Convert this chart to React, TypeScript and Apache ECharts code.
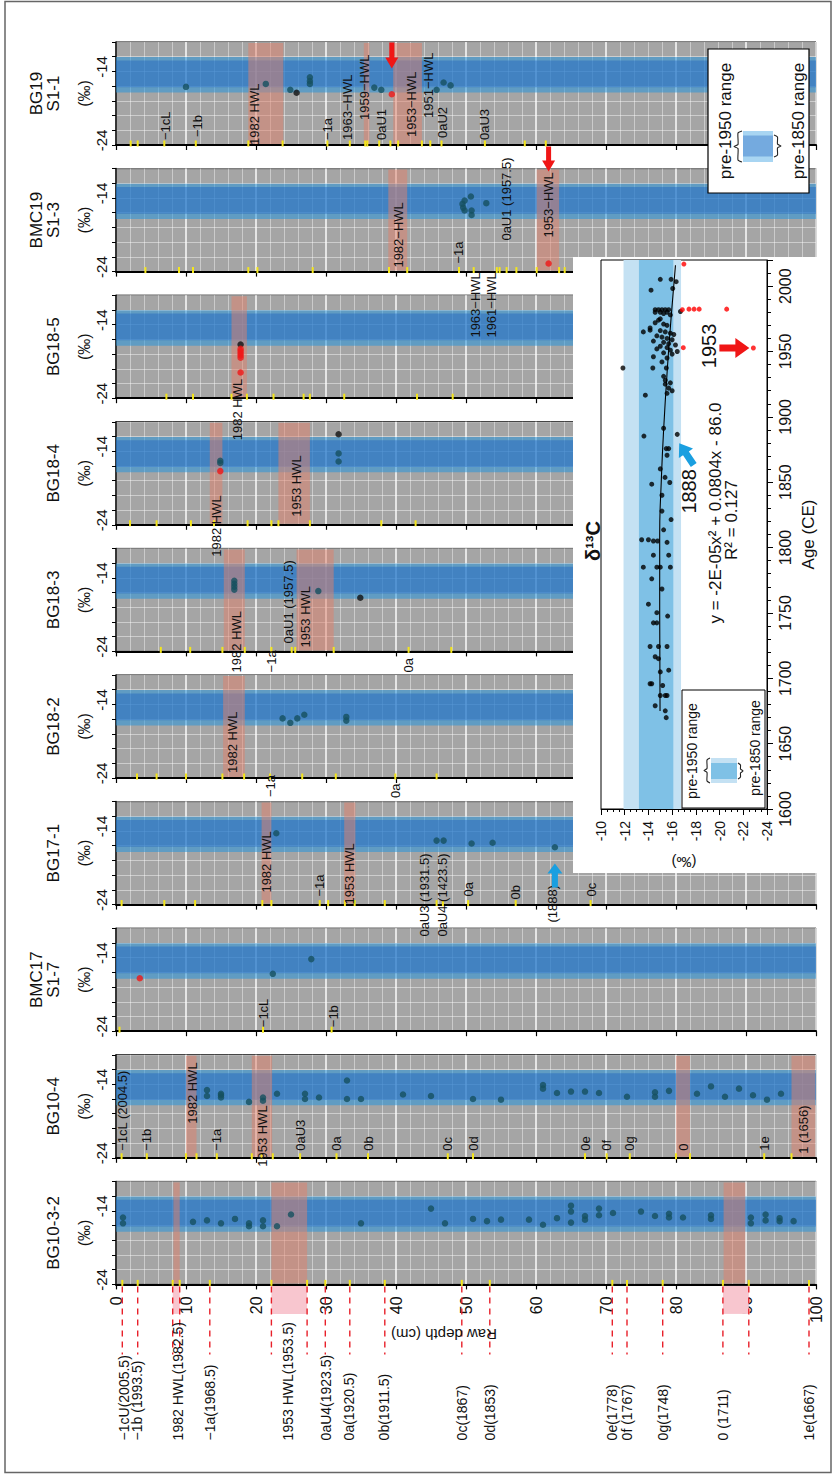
import React, { useEffect, useRef } from 'react';
import * as echarts from 'echarts';

const FONT = '"Liberation Sans", Arial, Helvetica, sans-serif';
const TEAL = '#15505f';
const BLACK = '#111111';
const RED = '#f01616';
const BLUE_ARROW = '#1a9fe0';

// ---------------- common axis data ----------------
const PANEL_TITLES = ['BG19\nS1-1', 'BMC19\nS1-3', 'BG18-5', 'BG18-4', 'BG18-3', 'BG18-2', 'BG17-1', 'BMC17\nS1-7', 'BG10-4', 'BG10-3-2'];
const DEPTH_MIN = 0;
const DEPTH_MAX = 100;
const DEPTH_STEP = 10;
const D13C_MIN = -24;
const D13C_MAX = -10;
const D13C_STEP = 2;
const D13C_LABELLED = [-14, -24];
const PANEL_PRE1950 = [-12.05, -16.86];
const PANEL_PRE1850 = [-12.5, -16.14];

// ---------------- BG19 S1-1 ----------------
const BG19_TEAL = [[10.0, -16.1], [21.4, -15.7], [24.9, -16.5], [27.7, -14.8], [27.7, -15.3], [27.7, -15.7], [36.9, -16.2], [37.9, -16.5], [45.8, -16.5], [46.8, -15.5], [47.8, -15.9]];
const BG19_BLACK = [[25.8, -16.9]];
const BG19_RED = [[39.4, -17.1]];
const BG19_HWL = [[18.9, 23.9], [35.4, 36.2], [39.6, 43.7]];
const BG19_TICKS = [2.1, 3.1, 6.9, 11.4, 18.9, 23.8, 30.2, 33.4, 35.6, 35.9, 37.6, 39.2, 40.3, 43.7, 44.9, 46.5, 52.7, 58.4, 61.4];
const BG19_LABELS = [['−1cL', 7.1], ['−1b', 11.6], ['1982 HWL', 19.8], ['−1a', 30.2], ['1963−HWL', 33.1], ['1959−HWL', 35.5], ['0aU1', 37.9], ['1953−HWL', 42.2], ['1951−HWL', 44.7], ['0aU2', 46.7], ['0aU3', 52.6]];
const BG19_LIFT = [5, 8, 0, 5, 5, 25, 5, 8, 27, 7, 5];

// ---------------- BMC19 S1-3 ----------------
const BMC19_TEAL = [[49.8, -14.35], [50.7, -13.8], [49.5, -14.8], [49.6, -15.3], [49.8, -15.7], [50.8, -15.7], [50.8, -16.3], [52.9, -14.7]];
const BMC19_RED = [[61.8, -22.9]];
const BMC19_HWL = [[38.9, 41.6], [60.1, 63.3]];
const BMC19_TICKS = [4.2, 9.0, 11.0, 18.9, 20.2, 28.1, 39.0, 41.6, 49.0, 51.1, 54.4, 54.8, 55.8, 57.2, 60.1, 63.3, 64.1];
const BMC19_LABELS = [['1982−HWL', 40.3], ['−1a', 48.9], ['0aU1 (1957.5)', 55.8], ['1953−HWL', 61.8], ['1963−HWL', 51.3], ['1961−HWL', 53.7]];
const BMC19_LIFT = [4, 8, 31, 34, -66, -66];

// ---------------- BG18-5 ----------------
const BG185_BLACK = [[17.8, -16.7]];
const BG185_RED = [[17.8, -17.3], [17.8, -17.6], [17.8, -17.9], [17.8, -18.2], [17.8, -18.5], [17.8, -20.5]];
const BG185_HWL = [[16.5, 18.7]];
const BG185_TICKS = [7.2, 11.0, 16.5, 18.7, 22.5, 26.8, 27.7, 32.6, 43.0, 48.1];
const BG185_LABELS = [['1982 HWL', 17.4]];
const BG185_LIFT = [-42];

// ---------------- BG18-4 ----------------
const BG184_TEAL = [[14.9, -15.3], [14.9, -15.6], [31.8, -14.3], [31.8, -15.4]];
const BG184_BLACK = [[31.8, -11.7]];
const BG184_RED = [[14.9, -16.7]];
const BG184_HWL = [[13.4, 15.2], [23.2, 27.7]];
const BG184_TICKS = [2.0, 5.8, 10.7, 14.0, 18.8, 22.2, 23.2, 27.7, 37.9, 42.8];
const BG184_LABELS = [['1982 HWL', 14.3], ['1953 HWL', 25.8]];
const BG184_LIFT = [-32, 8];

// ---------------- BG18-3 ----------------
const BG183_TEAL = [[16.9, -14.4], [16.9, -14.8], [16.9, -15.2], [16.9, -15.6], [28.9, -15.8]];
const BG183_BLACK = [[34.9, -16.7]];
const BG183_HWL = [[15.4, 18.4], [25.8, 31.1]];
const BG183_TICKS = [6.4, 10.6, 15.2, 18.4, 22.2, 25.1, 25.6, 31.1, 41.8, 47.9];
const BG183_LABELS = [['1982 HWL', 17.2], ['−1a', 22.2], ['0aU1 (1957.5)', 24.6], ['1953 HWL', 27.0], ['0a', 41.8]];
const BG183_LIFT = [-21, -21, 8, 4, -21];

// ---------------- BG18-2 ----------------
const BG182_TEAL = [[23.8, -15.9], [24.9, -16.5], [25.9, -15.9], [26.9, -15.4], [32.9, -15.7], [32.9, -16.2]];
const BG182_HWL = [[15.3, 18.4]];
const BG182_TICKS = [3.0, 5.8, 10.0, 15.2, 18.3, 22.0, 26.6, 31.4, 39.9, 45.8];
const BG182_LABELS = [['1982 HWL', 16.7], ['−1a', 22.0], ['0a', 39.9]];
const BG182_LIFT = [5, -19, -20];

// ---------------- BG17-1 ----------------
const BG171_TEAL = [[22.9, -14.3], [45.8, -15.3], [46.8, -15.3], [50.8, -15.7], [53.8, -15.6], [62.7, -16.2]];
const BG171_HWL = [[20.8, 22.2], [32.6, 34.2]];
const BG171_TICKS = [0.8, 6.9, 11.3, 20.9, 22.2, 29.1, 30.3, 32.7, 34.1, 38.4, 45.8, 46.7, 50.3, 57.1, 67.8];
const BG171_LABELS = [['1982 HWL', 21.5], ['−1a', 29.1], ['1953 HWL', 33.4], ['0aU3 (1931.5)', 44.1], ['0aU4 (1423.5)', 46.7], ['0a', 50.3], ['0b', 57.1], ['(1888)', 62.4], ['0c', 67.9]];
const BG171_LIFT = [12, 8, 0, -32, -32, 8, 5, -18, 8];

// ---------------- BMC17 S1-7 ----------------
const BMC17_TEAL = [[22.4, -16.2], [27.9, -14.2]];
const BMC17_RED = [[3.4, -16.8]];
const BMC17_TICKS = [0.5, 21.0, 30.8];
const BMC17_LABELS = [['−1cL', 21.0], ['−1b', 31.0]];
const BMC17_LIFT = [4, 4];

// ---------------- BG10-4 ----------------
const BG104_TEAL = [[13, -14.8], [13, -15.6], [15, -15.3], [15, -15.5], [15, -15.8], [19, -16.4], [21, -15.8], [21, -16.25], [23, -15.3], [27, -15.3], [27, -16.0], [29, -15.8], [33, -13.5], [33, -16.0], [35, -16.0], [41, -15.4], [45, -15.6], [51, -16.0], [55, -16.1], [61, -14.1], [61, -14.6], [63, -15.2], [65, -15.0], [67, -15.0], [69, -15.2], [73, -15.7], [77, -15.1], [77, -15.7], [79, -14.9], [83, -15.3], [85, -14.3], [87, -15.7], [89, -14.6], [91, -15.5], [93, -16.1], [95, -15.3]];
const BG104_HWL = [[10.0, 11.5], [19.4, 22.3], [80.0, 82.0], [96.5, 99.9]];
const BG104_TICKS = [0.8, 4.4, 10.0, 11.5, 14.4, 19.4, 20.8, 22.4, 26.3, 31.5, 36.0, 47.4, 51.0, 67.0, 70.1, 73.4, 80.0, 82.0, 92.6, 96.5];
const BG104_LABELS = [['−1cL (2004.5)', 0.9], ['−1b', 4.4], ['1982 HWL', 10.9], ['−1a', 14.4], ['1953 HWL', 20.9], ['0aU3', 26.3], ['0a', 31.5], ['0b', 36.0], ['0c', 47.4], ['0d', 51.0], ['0e', 67.0], ['0f', 70.1], ['0g', 73.4], ['0', 81.0], ['1e', 92.6], ['1 (1656)', 98.2]];
const BG104_LIFT = [7, 7, 34, 7, -9, 7, 7, 7, 7, 7, 7, 7, 7, 7, 7, 4];

// ---------------- BG10-3-2 ----------------
const BG1032_TEAL = [[1, -14.9], [1, -15.7], [11, -15.5], [13, -15.3], [15, -15.7], [17, -15.1], [19, -15.7], [19, -16.1], [21, -15.3], [21, -16.1], [23, -16.1], [25, -14.5], [35, -15.7], [45, -13.7], [47, -15.7], [51, -15.1], [53, -15.4], [55, -15.2], [59, -15.2], [61, -15.9], [63, -15.0], [65, -13.3], [65, -14.1], [65, -15.6], [67, -14.7], [67, -15.2], [69, -13.7], [69, -14.6], [71, -14.3], [75, -14.1], [77, -14.7], [79, -14.4], [79, -14.9], [81, -14.9], [85, -14.6], [85, -15.1], [90.7, -14.9], [90.7, -15.7], [92.8, -14.5], [92.8, -15.3], [94.8, -15.0], [94.8, -15.4], [96.8, -15.4]];
const BG1032_HWL = [[8.2, 9.1], [22.2, 27.3], [86.8, 89.9]];
const BG1032_TICKS = [0.9, 3.1, 8.1, 9.1, 13.4, 22.2, 27.3, 29.9, 33.4, 38.4, 49.4, 53.4, 70.9, 73.0, 78.1, 86.7, 90.4, 99.0];
const BOTTOM_LABELS = [['−1cU(2005.5)', 1.2], ['−1b (1993.5)', 3.0], ['1982 HWL(1982.5)', 8.8], ['−1a(1968.5)', 13.4], ['1953 HWL(1953.5)', 24.5], ['0aU4(1923.5)', 30.0], ['0a(1920.5)', 33.3], ['0b(1911.5)', 38.3], ['0c(1867)', 49.4], ['0d(1853)', 53.4], ['0e(1778)', 70.9], ['0f (1767)', 73.0], ['0g(1748)', 78.1], ['0 (1711)', 86.7], ['1e(1667)', 99.0]];
const BOTTOM_DASHES = BG1032_TICKS;
const BOTTOM_HWL = [[8.1, 9.1], [22.2, 27.3], [86.7, 90.4]];

// ---------------- arrows in panels (tip positions) ----------------
const BG19_ARROW_TIP = [[39.4, -13.6]];
const BMC19_ARROW_TIP = [[61.8, -10.4]];
const BG171_ARROW_TIP = [[62.7, -18.4]];

// ---------------- inset: δ13C vs age ----------------
const AGE_MIN = 1600;
const AGE_MAX = 2020;
const AGE_STEP = 50;
const INSET_D_STEP = 2;
const INSET_PRE1950 = [-11.9, -16.75];
const INSET_PRE1850 = [-13.2, -16.1];
// [age CE, δ13C ‰]
const INSET_BLACK = [
  [2005.2, -15.0], [2005.2, -15.91], [2003.4, -16.34], [1998.2, -16.05], [1996.9, -14.22],
  [1982, -14.57], [1982, -14.85], [1982, -15.14], [1982, -15.42], [1982, -15.71], [1980, -14.57], [1980, -15.0], [1980, -15.57], [1980.6, -16.7], [1979, -15.28], [1978, -15.85],
  [1975, -15.0], [1974, -14.85], [1972, -14.57], [1971, -15.28], [1970, -15.57], [1968, -14.14], [1966.3, -14.14], [1965, -13.57], [1966, -15.0], [1965, -15.42], [1964, -15.85], [1963, -16.14], [1962, -14.71], [1961, -15.14], [1960, -15.57], [1959, -16.0], [1958, -14.42], [1957, -15.28], [1956, -15.71], [1955, -16.28], [1954, -15.0], [1953, -15.57], [1952, -14.71], [1951, -15.85], [1950, -16.43], [1949, -15.28], [1948, -16.0], [1946, -14.42], [1945, -15.57], [1942, -15.14],
  [1937.4, -11.85], [1937.4, -14.37], [1937.4, -15.51], [1931, -15.28], [1928, -15.42], [1926, -15.85], [1925, -15.42], [1922, -15.71], [1920, -16.0], [1918, -15.57], [1916.6, -13.74],
  [1891.3, -15.28], [1886.6, -16.43], [1885.3, -13.62], [1875.7, -15.5], [1875.7, -15.71],
  [1870.6, -15.57], [1860.2, -15.0], [1853.7, -15.4], [1849.8, -15.8], [1848.5, -14.28], [1840, -15.14], [1827.9, -15.14], [1821.4, -15.91], [1813.6, -15.28],
  [1806, -13.43], [1806, -14.0], [1805, -14.42], [1805, -14.77], [1804, -15.57], [1794.2, -14.42], [1794.2, -15.71], [1785, -13.57], [1785, -14.71], [1785, -15.0], [1785, -15.85],
  [1776.1, -14.28], [1768.3, -15.14], [1756.7, -14.0], [1750.2, -14.71], [1747.6, -15.62], [1742.4, -14.42], [1742.4, -14.71], [1724.3, -14.14], [1724.3, -14.85], [1724.3, -15.57],
  [1716.5, -14.57], [1715, -14.85], [1706.2, -15.71], [1704.9, -15.0], [1695.8, -14.14], [1695.8, -14.28], [1694.5, -15.2], [1686.8, -15.0], [1686.8, -15.42], [1686.8, -15.57], [1679, -14.57], [1675.1, -15.42], [1669.9, -15.5]
];
const INSET_RED = [[2016.9, -16.99], [1982, -16.86], [1982.4, -17.42], [1982.4, -17.85], [1982.4, -18.28], [1982.4, -20.6], [1952.9, -16.94], [1952.7, -22.85]];
const INSET_TREND = [[1675, -14.98], [1750, -14.95], [1810, -14.95], [1850, -15.08], [1890, -15.28], [1940, -15.62], [1980, -15.95], [2016, -16.28]];
const INSET_RED_TARGET = [[1952.7, -22.85]];
const INSET_BLUE_TARGET = [[1886.6, -16.43]];
const INSET_NOTES = [['1953', 1952.7, -22.85], ['1888', 1886.6, -16.43]];

// ---------------- layout (pixels) ----------------
const TOPS = [42, 168.6, 295.2, 421.8, 548.4, 675, 801.6, 928.2, 1054.8, 1181.4];
const GRID_LEFT = 116;
const GRID_W = 700;
const GRID_H = 103;

const PANELS = [
  { teal: BG19_TEAL, black: BG19_BLACK, red: BG19_RED, hwl: BG19_HWL, ticks: BG19_TICKS, labels: BG19_LABELS, lift: BG19_LIFT },
  { teal: BMC19_TEAL, black: [], red: BMC19_RED, hwl: BMC19_HWL, ticks: BMC19_TICKS, labels: BMC19_LABELS, lift: BMC19_LIFT },
  { teal: [], black: BG185_BLACK, red: BG185_RED, hwl: BG185_HWL, ticks: BG185_TICKS, labels: BG185_LABELS, lift: BG185_LIFT },
  { teal: BG184_TEAL, black: BG184_BLACK, red: BG184_RED, hwl: BG184_HWL, ticks: BG184_TICKS, labels: BG184_LABELS, lift: BG184_LIFT },
  { teal: BG183_TEAL, black: BG183_BLACK, red: [], hwl: BG183_HWL, ticks: BG183_TICKS, labels: BG183_LABELS, lift: BG183_LIFT },
  { teal: BG182_TEAL, black: [], red: [], hwl: BG182_HWL, ticks: BG182_TICKS, labels: BG182_LABELS, lift: BG182_LIFT },
  { teal: BG171_TEAL, black: [], red: [], hwl: BG171_HWL, ticks: BG171_TICKS, labels: BG171_LABELS, lift: BG171_LIFT },
  { teal: BMC17_TEAL, black: [], red: BMC17_RED, hwl: [], ticks: BMC17_TICKS, labels: BMC17_LABELS, lift: BMC17_LIFT },
  { teal: BG104_TEAL, black: [], red: [], hwl: BG104_HWL, ticks: BG104_TICKS, labels: BG104_LABELS, lift: BG104_LIFT },
  { teal: BG1032_TEAL, black: [], red: [], hwl: BG1032_HWL, ticks: BG1032_TICKS, labels: [], lift: [] },
];

function txt(style: any) {
  return { fontFamily: FONT, fill: '#111', align: 'center', verticalAlign: 'middle', ...style };
}

function bandSeries(r1950: number[], r1850: number[], c1: string, c2: string, gi: number, vertical: boolean, z: number) {
  return {
    type: 'custom', xAxisIndex: gi, yAxisIndex: gi, silent: true, z,
    data: [[0]],
    renderItem: (params: any, api: any) => {
      const cs = params.coordSys;
      const mk = (r: number[], fill: string) => {
        if (!vertical) {
          const a = api.coord([DEPTH_MIN, r[0]]);
          const b = api.coord([DEPTH_MAX, r[1]]);
          return { type: 'rect', shape: { x: cs.x, y: a[1], width: cs.width, height: b[1] - a[1] }, style: { fill } };
        }
        const a = api.coord([r[0], AGE_MAX]);
        const b = api.coord([r[1], AGE_MIN]);
        return { type: 'rect', shape: { x: a[0], y: cs.y, width: b[0] - a[0], height: cs.height }, style: { fill } };
      };
      return { type: 'group', children: [mk(r1950, c1), mk(r1850, c2)] };
    },
  };
}

function dotSeries(i: number, p: any) {
  const data = [
    ...p.teal.map((v: number[]) => ({ value: v, itemStyle: { color: TEAL } })),
    ...p.black.map((v: number[]) => ({ value: v, itemStyle: { color: BLACK } })),
    ...p.red.map((v: number[]) => ({ value: v, itemStyle: { color: RED } })),
  ];
  return { type: 'scatter', xAxisIndex: i, yAxisIndex: i, symbolSize: 6.5, data, silent: true, z: 2 };
}

function hwlSeries(i: number, ranges: number[][]) {
  return {
    type: 'custom', xAxisIndex: i, yAxisIndex: i, silent: true, z: 2, data: ranges,
    renderItem: (params: any, api: any) => {
      const a = api.coord([api.value(0), D13C_MAX]);
      const b = api.coord([api.value(1), D13C_MIN]);
      return { type: 'rect', shape: { x: a[0], y: a[1] + 1, width: b[0] - a[0], height: b[1] - a[1] - 2 }, style: { fill: 'rgba(226,128,106,0.5)' } };
    },
  };
}

function tickSeries(i: number, ticks: number[]) {
  return {
    type: 'custom', xAxisIndex: i, yAxisIndex: i, silent: true, z: 3, data: ticks.map((t) => [t, D13C_MIN]),
    renderItem: (params: any, api: any) => {
      const p = api.coord([api.value(0), api.value(1)]);
      return { type: 'rect', shape: { x: p[0] - 1, y: p[1] - 4.5, width: 2, height: 6 }, style: { fill: '#f4e61a' } };
    },
  };
}

function labelSeries(i: number, labels: any[], lift: number[]) {
  return {
    type: 'custom', xAxisIndex: i, yAxisIndex: i, silent: true, z: 3, data: labels.map((l) => [l[1], D13C_MIN]),
    renderItem: (params: any, api: any) => {
      const p = api.coord([api.value(0), api.value(1)]);
      const k = params.dataIndex;
      return {
        type: 'text', x: p[0], y: p[1] - lift[k], rotation: Math.PI / 2,
        style: txt({ text: labels[k][0], fontSize: 13, align: 'left', verticalAlign: 'middle' }),
      };
    },
  };
}

function arrowSeries(xi: number, yi: number, tips: number[][], dir: number[], color: string, len: number, headLen: number, headW: number, bodyW: number, off: number[], z: number) {
  return {
    type: 'custom', xAxisIndex: xi, yAxisIndex: yi, silent: true, z, data: tips,
    renderItem: (params: any, api: any) => {
      const p = api.coord([api.value(0), api.value(1)]);
      const tx = p[0] + off[0];
      const ty = p[1] + off[1];
      const ux = dir[0];
      const uy = dir[1];
      const nx = -uy;
      const ny = ux;
      const bx = tx - ux * headLen;
      const by = ty - uy * headLen;
      const ex = tx - ux * len;
      const ey = ty - uy * len;
      const pts = [
        [tx, ty],
        [bx + nx * headW / 2, by + ny * headW / 2],
        [bx + nx * bodyW / 2, by + ny * bodyW / 2],
        [ex + nx * bodyW / 2, ey + ny * bodyW / 2],
        [ex - nx * bodyW / 2, ey - ny * bodyW / 2],
        [bx - nx * bodyW / 2, by - ny * bodyW / 2],
        [bx - nx * headW / 2, by - ny * headW / 2],
      ];
      return { type: 'polygon', shape: { points: pts }, style: { fill: color } };
    },
  };
}

function brace(xTip: number, xBase: number, y1: number, y2: number) {
  const xm = (xTip + xBase) / 2;
  const ym = (y1 + y2) / 2;
  return {
    type: 'polyline', z: 72,
    shape: { points: [[xBase, y1], [xm, y1 + 2], [xm, ym - 2], [xTip, ym], [xm, ym + 2], [xm, y2 - 2], [xBase, y2]], smooth: 0.2 },
    style: { stroke: '#222', lineWidth: 1.1, fill: null },
  };
}

function buildOption() {
  const grids: any[] = [];
  const xAxes: any[] = [];
  const yAxes: any[] = [];
  const series: any[] = [];

  PANELS.forEach((p, i) => {
    grids.push({ left: GRID_LEFT, top: TOPS[i], width: GRID_W, height: GRID_H, show: true, backgroundColor: '#a5a5a5', borderColor: '#000', borderWidth: 1 });
    xAxes.push({
      gridIndex: i, type: 'value', min: DEPTH_MIN, max: DEPTH_MAX, interval: DEPTH_STEP,
      axisLine: { show: true, onZero: false, lineStyle: { color: '#000', width: 2 } },
      axisTick: { show: true, length: 5, lineStyle: { color: '#000', width: 1.2 } },
      axisLabel: { show: i === 9, rotate: 90, fontSize: 16, margin: 12, color: '#111', fontFamily: FONT, formatter: (v: number) => String(v) },
      splitLine: { show: true, lineStyle: { color: 'rgba(255,255,255,0.95)', width: 1.5 } },
      minorTick: { show: false, splitNumber: 5 },
      minorSplitLine: { show: true, lineStyle: { color: 'rgba(255,255,255,0.42)', width: 1 } },
    });
    yAxes.push({
      gridIndex: i, type: 'value', min: D13C_MIN, max: D13C_MAX, interval: D13C_STEP,
      axisLine: { show: true, onZero: false, lineStyle: { color: '#000', width: 1.5 } },
      axisTick: { show: true, length: 4, lineStyle: { color: '#000' } },
      axisLabel: {
        rotate: 90, fontSize: 15, margin: 7, color: '#111', fontFamily: FONT, padding: [0, 0, 0, 9],
        formatter: (v: number) => (D13C_LABELLED.indexOf(v) >= 0 ? String(v) : ''),
      },
      splitLine: { show: true, lineStyle: { color: 'rgba(255,255,255,0.45)', width: 1 } },
    });
    series.push(bandSeries(PANEL_PRE1950, PANEL_PRE1850, 'rgba(40,150,220,0.55)', 'rgba(30,100,190,0.45)', i, false, 2));
    series.push(dotSeries(i, p));
    if (p.hwl.length) series.push(hwlSeries(i, p.hwl));
    series.push(tickSeries(i, p.ticks));
    if (p.labels.length) series.push(labelSeries(i, p.labels, p.lift));
  });

  // arrows inside panels
  series.push(arrowSeries(0, 0, BG19_ARROW_TIP, [0, 1], RED, 26, 11, 13, 5, [0, 0], 3));
  series.push(arrowSeries(1, 1, BMC19_ARROW_TIP, [0, 1], RED, 25, 11, 13, 5, [0, 0], 3));
  series.push(arrowSeries(6, 6, BG171_ARROW_TIP, [0, -1], BLUE_ARROW, 24, 10, 15, 6, [0, 0], 3));

  // bottom depth-axis annotations (BG10-3-2)
  series.push({
    type: 'custom', xAxisIndex: 9, yAxisIndex: 9, silent: true, z: 2, data: BOTTOM_HWL,
    renderItem: (params: any, api: any) => {
      const a = api.coord([api.value(0), D13C_MIN]);
      const b = api.coord([api.value(1), D13C_MIN]);
      return { type: 'rect', shape: { x: a[0], y: a[1] + 1.5, width: b[0] - a[0], height: 28 }, style: { fill: '#f8c6cf' } };
    },
  });
  series.push({
    type: 'custom', xAxisIndex: 9, yAxisIndex: 9, silent: true, z: 3, data: BOTTOM_DASHES.map((d) => [d, D13C_MIN]),
    renderItem: (params: any, api: any) => {
      const p = api.coord([api.value(0), api.value(1)]);
      return { type: 'line', shape: { x1: p[0], y1: p[1] + 2, x2: p[0], y2: p[1] + 70 }, style: { stroke: '#e8202a', lineWidth: 1.4, lineDash: [6, 5] } };
    },
  });
  series.push({
    type: 'custom', xAxisIndex: 9, yAxisIndex: 9, silent: true, z: 3, data: BOTTOM_LABELS.map((l) => [l[1], D13C_MIN]),
    renderItem: (params: any, api: any) => {
      const p = api.coord([api.value(0), api.value(1)]);
      return {
        type: 'text', x: p[0], y: p[1] + 156, rotation: Math.PI / 2,
        style: txt({ text: BOTTOM_LABELS[params.dataIndex][0], fontSize: 14, align: 'left', verticalAlign: 'middle' }),
      };
    },
  });

  // ---------------- inset ----------------
  const G = 10;
  grids.push({ left: 601, top: 260, width: 166, height: 549, show: true, backgroundColor: '#fff', borderColor: '#000', borderWidth: 1, z: 60 });
  xAxes.push({
    gridIndex: G, type: 'value', min: D13C_MIN, max: D13C_MAX, interval: INSET_D_STEP, inverse: true, position: 'bottom', z: 60,
    axisLine: { show: true, onZero: false, lineStyle: { color: '#000', width: 1 } },
    axisTick: { show: true, length: 6, lineStyle: { color: '#000' } },
    minorTick: { show: true, splitNumber: 4, length: 3, lineStyle: { color: '#000' } },
    axisLabel: { rotate: 90, fontSize: 14, margin: 12, color: '#111', fontFamily: FONT, formatter: (v: number) => String(v) },
    splitLine: { show: false },
    name: '(‰)', nameLocation: 'middle', nameGap: 46, nameRotate: 180, nameTextStyle: { fontSize: 15, color: '#111', fontFamily: FONT },
  });
  yAxes.push({
    gridIndex: G, type: 'value', min: AGE_MIN, max: AGE_MAX, interval: AGE_STEP, position: 'right', z: 60,
    axisLine: { show: true, onZero: false, lineStyle: { color: '#000', width: 1 } },
    axisTick: { show: true, length: 6, lineStyle: { color: '#000' } },
    minorTick: { show: true, splitNumber: 5, length: 4, lineStyle: { color: '#000' } },
    axisLabel: { rotate: 90, fontSize: 16, margin: 10, color: '#111', fontFamily: FONT, showMaxLabel: false, formatter: (v: number) => String(v) },
    splitLine: { show: false },
    name: 'Age (CE)', nameLocation: 'middle', nameGap: 33, nameRotate: 90, nameTextStyle: { fontSize: 17, color: '#111', fontFamily: FONT },
  });
  series.push(bandSeries(INSET_PRE1950, INSET_PRE1850, '#c4e1f3', '#7fc1e6', G, true, 61));
  series.push({
    type: 'line', xAxisIndex: G, yAxisIndex: G, z: 62, silent: true, smooth: true, showSymbol: false, symbol: 'none',
    data: INSET_TREND.map((r) => [r[1], r[0]]), lineStyle: { color: '#000', width: 1.1 },
  });
  series.push({
    type: 'scatter', xAxisIndex: G, yAxisIndex: G, z: 63, silent: true, symbolSize: 5,
    data: INSET_BLACK.map((r) => [r[1], r[0]]), itemStyle: { color: '#000' },
  });
  series.push({
    type: 'scatter', xAxisIndex: G, yAxisIndex: G, z: 63, silent: true, symbolSize: 5,
    data: INSET_RED.map((r) => [r[1], r[0]]), itemStyle: { color: '#f00' },
  });
  series.push(arrowSeries(G, G, INSET_RED_TARGET.map((r) => [r[1], r[0]]), [1, 0], RED, 30, 14, 20, 7, [-4, 0], 64));
  series.push(arrowSeries(G, G, INSET_BLUE_TARGET.map((r) => [r[1], r[0]]), [-0.557, -0.831], BLUE_ARROW, 26, 12, 17, 7, [2, 9], 64));
  series.push({
    type: 'custom', xAxisIndex: G, yAxisIndex: G, silent: true, z: 64, data: INSET_NOTES.map((r) => [r[2], r[1]]),
    renderItem: (params: any, api: any) => {
      const p = api.coord([api.value(0), api.value(1)]);
      const k = params.dataIndex;
      const off = k === 0 ? [-44, -2] : [12, 57];
      return { type: 'text', x: p[0] + off[0], y: p[1] + off[1], rotation: Math.PI / 2, style: txt({ text: INSET_NOTES[k][0], fontSize: 20 }) };
    },
  });

  // ---------------- graphic overlays ----------------
  const g: any[] = [];
  PANEL_TITLES.forEach((t, i) => {
    const cy = TOPS[i] + GRID_H / 2;
    g.push({ type: 'text', x: 62, y: cy, rotation: Math.PI / 2, z: 10, style: txt({ text: t, fontSize: 17, lineHeight: 17, verticalAlign: 'bottom' }) });
    g.push({ type: 'text', x: 84, y: cy, rotation: Math.PI / 2, z: 10, style: txt({ text: '(‰)', fontSize: 16 }) });
  });
  g.push({ type: 'text', x: 444, y: 1334, rotation: Math.PI, z: 10, style: txt({ text: 'Raw depth (cm)', fontSize: 15 }) });
  // white background of the inset
  g.push({ type: 'rect', z: 50, shape: { x: 573, y: 257, width: 258, height: 616 }, style: { fill: '#fff' } });
  g.push({ type: 'text', x: 593, y: 541, rotation: Math.PI / 2, z: 70, style: txt({ text: 'δ¹³C', fontSize: 20, fontWeight: 'bold' }) });
  g.push({ type: 'text', x: 715, y: 513, rotation: Math.PI / 2, z: 70, style: txt({ text: 'y = -2E-05x² + 0.0804x - 86.0', fontSize: 17 }) });
  g.push({ type: 'text', x: 731, y: 520, rotation: Math.PI / 2, z: 70, style: txt({ text: 'R² = 0.127', fontSize: 17 }) });
  // inset legend
  g.push({ type: 'rect', z: 70, shape: { x: 682, y: 690, width: 83, height: 118 }, style: { fill: '#fff', stroke: '#000', lineWidth: 1 } });
  g.push({ type: 'text', x: 692, y: 751, rotation: Math.PI / 2, z: 72, style: txt({ text: 'pre-1950 range', fontSize: 14 }) });
  g.push({ type: 'text', x: 755, y: 748, rotation: Math.PI / 2, z: 72, style: txt({ text: 'pre-1850 range', fontSize: 14 }) });
  g.push({ type: 'rect', z: 71, shape: { x: 711, y: 758, width: 26, height: 25 }, style: { fill: '#c4e1f3' } });
  g.push({ type: 'rect', z: 71, shape: { x: 711, y: 763, width: 26, height: 16 }, style: { fill: '#7fc1e6' } });
  g.push(brace(704, 710, 758, 783));
  g.push(brace(743, 738, 763, 779));
  // top-right legend
  g.push({ type: 'rect', z: 70, shape: { x: 708, y: 49, width: 101, height: 144 }, style: { fill: '#fff', stroke: '#000', lineWidth: 1.2 } });
  g.push({ type: 'text', x: 725, y: 121, rotation: Math.PI / 2, z: 72, style: txt({ text: 'pre-1950 range', fontSize: 17 }) });
  g.push({ type: 'text', x: 798, y: 121, rotation: Math.PI / 2, z: 72, style: txt({ text: 'pre-1850 range', fontSize: 17 }) });
  g.push({ type: 'rect', z: 71, shape: { x: 743, y: 131, width: 30, height: 31 }, style: { fill: '#a8d5f2' } });
  g.push({ type: 'rect', z: 71, shape: { x: 743, y: 135.5, width: 30, height: 21 }, style: { fill: '#74aadf' } });
  g.push(brace(734, 742, 131, 162));
  g.push(brace(781, 774, 135, 157));
  // outer frame
  g.push({ type: 'rect', z: 100, shape: { x: 5, y: 1.5, width: 826, height: 1471 }, style: { fill: null, stroke: '#666', lineWidth: 1.5 } });

  return {
    animation: false,
    backgroundColor: '#fff',
    textStyle: { fontFamily: FONT },
    grid: grids,
    xAxis: xAxes,
    yAxis: yAxes,
    series,
    graphic: { elements: g },
  };
}

export default function App() {
  const ref = useRef<HTMLDivElement>(null);
  useEffect(() => {
    const chart = echarts.init(ref.current as HTMLDivElement, null, { renderer: 'svg' });
    chart.setOption(buildOption() as any);
    return () => chart.dispose();
  }, []);
  return <div ref={ref} style={{ position: 'absolute', left: 0, top: 0, width: 834, height: 1475, background: '#fff' }} />;
}
